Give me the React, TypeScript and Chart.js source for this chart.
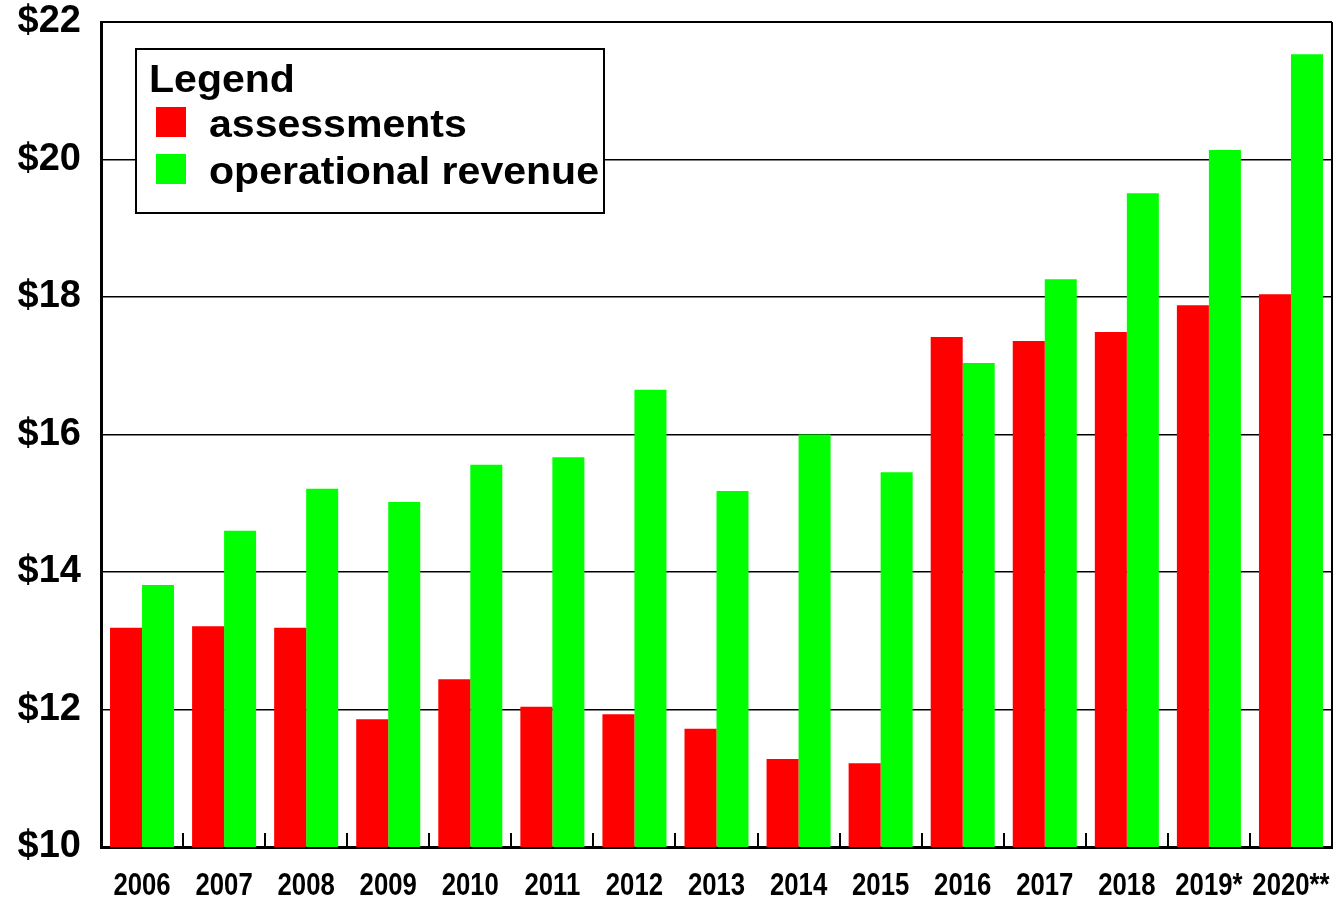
import React, { useEffect, useRef } from "react";
import { Chart, registerables } from "chart.js";

Chart.register(...registerables);

const categories = ["2006", "2007", "2008", "2009", "2010", "2011", "2012", "2013", "2014", "2015", "2016", "2017", "2018", "2019*", "2020**"];
const assessments = [13.19, 13.21, 13.19, 11.86, 12.44, 12.04, 11.93, 11.72, 11.28, 11.22, 17.42, 17.36, 17.49, 17.88, 18.04];
const operationalRevenue = [13.81, 14.6, 15.21, 15.02, 15.56, 15.67, 16.65, 15.18, 16.0, 15.45, 17.04, 18.26, 19.51, 20.14, 21.53];
const seriesLabels = ["assessments", "operational revenue"];
const seriesColors = ["#ff0000", "#00ff00"];
const legendTitle = "Legend";
const yMin = 10;
const yMax = 22;
const yStep = 2;

const boxPlugin = {
  id: "boxAndLegend",
  afterDraw(chart: any) {
    const { ctx, chartArea } = chart;
    const { left, right, top, bottom } = chartArea;
    ctx.save();
    // top and right border
    ctx.strokeStyle = "#000";
    ctx.lineWidth = 2;
    ctx.beginPath();
    ctx.moveTo(left, top);
    ctx.lineTo(right, top);
    ctx.moveTo(right, top);
    ctx.lineTo(right, bottom + 1.5);
    ctx.stroke();

    // inner tick marks between categories
    const xs = chart.scales.x;
    ctx.lineWidth = 2;
    ctx.beginPath();
    for (let i = 0; i < categories.length - 1; i++) {
      const x = Math.round((xs.getPixelForValue(i) + xs.getPixelForValue(i + 1)) / 2);
      ctx.moveTo(x, bottom);
      ctx.lineTo(x, bottom - 14);
    }
    ctx.stroke();

    // category labels (condensed bold)
    ctx.fillStyle = "#000";
    ctx.textAlign = "center";
    ctx.textBaseline = "alphabetic";
    ctx.font = "bold 31px Arial, 'Liberation Sans', sans-serif";
    categories.forEach((c, i) => {
      const x = xs.getPixelForValue(i);
      ctx.save();
      ctx.translate(x, bottom + 48);
      ctx.scale(0.83, 1);
      ctx.fillText(c, 0, 0);
      ctx.restore();
    });

    // legend box
    const bx = left + 35;
    const by = top + 27;
    const bw = 468;
    const bh = 164;
    ctx.fillStyle = "#fff";
    ctx.fillRect(bx, by, bw, bh);
    ctx.strokeStyle = "#000";
    ctx.lineWidth = 2;
    ctx.strokeRect(bx, by, bw, bh);

    ctx.textAlign = "left";
    ctx.font = "bold 38px Arial, 'Liberation Sans', sans-serif";
    const drawText = (t: string, x: number, y: number) => {
      ctx.save();
      ctx.translate(x, y);
      ctx.scale(1.08, 1);
      ctx.fillStyle = "#000";
      ctx.fillText(t, 0, 0);
      ctx.restore();
    };
    drawText(legendTitle, bx + 13, by + 43);
    seriesLabels.forEach((lab, i) => {
      const y = by + 58 + i * 47;
      ctx.fillStyle = seriesColors[i];
      ctx.fillRect(bx + 20, y, 30, 30);
      drawText(lab, bx + 73, y + 30);
    });
    ctx.restore();
  },
};

export default function App() {
  const ref = useRef<HTMLCanvasElement | null>(null);
  useEffect(() => {
    if (!ref.current) return;
    const chart = new Chart(ref.current, {
      type: "bar",
      data: {
        labels: categories,
        datasets: [
          { label: seriesLabels[0], data: assessments, backgroundColor: seriesColors[0], categoryPercentage: 0.78, barPercentage: 1.0 },
          { label: seriesLabels[1], data: operationalRevenue, backgroundColor: seriesColors[1], categoryPercentage: 0.78, barPercentage: 1.0 },
        ],
      },
      options: {
        animation: false,
        responsive: false,
        devicePixelRatio: 1,
        layout: { padding: { top: 22, right: 5, left: 0, bottom: 0 } },
        plugins: { legend: { display: false }, tooltip: { enabled: false } },
        scales: {
          x: {
            grid: { display: false },
            border: { display: true, color: "#000", width: 3 },
            ticks: { display: false },
            afterFit: (s: any) => {
              s.height = 52;
              s.paddingLeft = 0;
              s.paddingRight = 0;
            },
          },
          y: {
            min: yMin,
            max: yMax,
            ticks: {
              stepSize: yStep,
              color: "#000",
              font: { family: "Arial, 'Liberation Sans', sans-serif", weight: "bold", size: 38 },
              padding: 20,
              callback: (v: any) => "$" + v,
            },
            grid: { color: "#000", lineWidth: 1.5, drawTicks: false },
            border: { color: "#000", width: 3 },
            afterFit: (s: any) => {
              s.width = 101;
              s.paddingTop = 0;
              s.paddingBottom = 0;
            },
          },
        },
      },
      plugins: [boxPlugin],
    });
    return () => chart.destroy();
  }, []);
  return (
    <div style={{ position: "absolute", left: 0, top: 0, width: 1337, height: 899, background: "#fff" }}>
      <canvas ref={ref} width={1337} height={899} />
    </div>
  );
}
